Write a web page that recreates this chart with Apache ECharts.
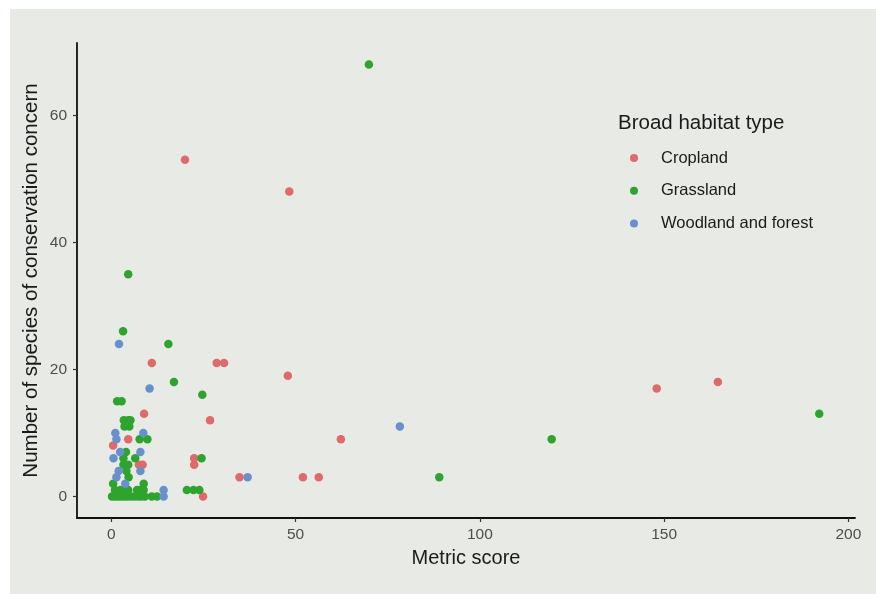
<!DOCTYPE html>
<html>
<head>
<meta charset="utf-8">
<script src="https://cdn.jsdelivr.net/npm/echarts@6/dist/echarts.min.js"></script>
<style>
html,body{margin:0;padding:0;background:#ffffff;}
#wrap{position:absolute;left:10px;top:9px;width:866px;height:585px;background:#e8eae6;}
#chart{position:absolute;left:0;top:0;width:876px;height:594px;}
</style>
</head>
<body>
<div id="wrap"></div>
<div id="chart"></div>
<script>
const seriesNames = ['Cropland', 'Grassland', 'Woodland and forest'];
const xTicks = [0, 50, 100, 150, 200];
const yTicks = [0, 20, 40, 60];

const cropland = [
  [20,53],[48.3,48],[28.6,21],[30.6,21],[11,21],[47.9,19],[148,17],[164.6,18],
  [8.9,13],[26.8,12],[62.3,9],[4.6,9],[0.5,8],[22.5,6],[22.5,5],[7.5,5],[8.5,5],
  [34.8,3],[52,3],[56.3,3],[24.9,0]
];
const grassland = [
  [69.9,68],[4.6,35],[3.2,26],[15.5,24],[17,18],[24.7,16],[1.6,15],[2.8,15],
  [3.4,12],[4.6,12],[5.2,12],[3.6,11],[4.9,11],[7.7,9],[9.8,9],[119.5,9],[192.1,13],
  [4,7],[3.3,6],[6.5,6],[24.5,6],[3.3,5],[4.6,5],[4.1,4],[89,3],[4.7,3],[0.5,2],[8.8,2],
  [1,1],[2.5,1],[3.7,1],[4.6,1],[7,1],[7.9,1],[8.8,1],[20.5,1],[22.3,1],[23.9,1],
  [0.2,0],[1,0],[1.8,0],[2.6,0],[3.4,0],[4.3,0],[5.2,0],[6.2,0],[7.2,0],[8.1,0],[9.1,0],[11,0],[12.4,0]
];
const woodland = [
  [2.1,24],[10.4,17],[1.1,10],[8.7,10],[1.4,9],[2.4,7],[7.9,7],[0.6,6],[2,4],[7.9,4],
  [1.4,3],[3.8,2],[14.2,1],[14.2,0],[78.3,11],[37,3]
];
const colors = ['#e0696a', '#2ea42e', '#6790cc'];

const chart = echarts.init(document.getElementById('chart'), null, {renderer: 'canvas'});
const FONT = 'Liberation Sans';
chart.setOption({
  backgroundColor: 'transparent',
  animation: false,
  color: colors,
  title: {
    text: 'Broad habitat type',
    left: 613, top: 108,
    textStyle: {fontFamily: FONT, fontSize: 20.5, fontWeight: 'normal', color: '#1a1a1a'}
  },
  legend: {
    orient: 'vertical',
    left: 625, top: 143,
    icon: 'circle',
    itemWidth: 44, itemHeight: 8,
    itemGap: 12.7,
    textStyle: {fontFamily: FONT, fontSize: 16.5, color: '#1a1a1a', lineHeight: 20},
    data: seriesNames
  },
  grid: {left: 77, right: 21, top: 43, bottom: 76},
  xAxis: {
    type: 'value', min: -9.3, max: 201.8, interval: 50,
    name: 'Metric score', nameLocation: 'middle', nameGap: 30,
    nameTextStyle: {fontFamily: FONT, fontSize: 20, color: '#1a1a1a'},
    axisLine: {show: true, onZero: false, lineStyle: {color: '#111', width: 1.8}},
    axisTick: {show: true, length: 4, lineStyle: {color: '#333', width: 1.2},
      customValues: xTicks},
    axisLabel: {fontFamily: FONT, fontSize: 15.5, color: '#4d4d4d', margin: 9,
      customValues: xTicks},
    splitLine: {show: false}
  },
  yAxis: {
    type: 'value', min: -3.4, max: 71.4,
    name: 'Number of species of conservation concern', nameLocation: 'middle', nameGap: 35,
    nameMoveOverlap: false,
    nameTextStyle: {fontFamily: FONT, fontSize: 20.5, color: '#1a1a1a'},
    axisLine: {show: true, onZero: false, lineStyle: {color: '#111', width: 1.8}},
    axisTick: {show: true, length: 4, lineStyle: {color: '#333', width: 1.2},
      customValues: yTicks},
    axisLabel: {fontFamily: FONT, fontSize: 15.5, color: '#4d4d4d', margin: 10,
      customValues: yTicks},
    splitLine: {show: false}
  },
  series: [
    {name: seriesNames[0], type: 'scatter', data: cropland, symbolSize: 8.5, itemStyle: {color: colors[0], opacity: 1}},
    {name: seriesNames[1], type: 'scatter', data: grassland, symbolSize: 8.5, itemStyle: {color: colors[1], opacity: 1}},
    {name: seriesNames[2], type: 'scatter', data: woodland, symbolSize: 8.5, itemStyle: {color: colors[2], opacity: 1}}
  ]
});
</script>
</body>
</html>
